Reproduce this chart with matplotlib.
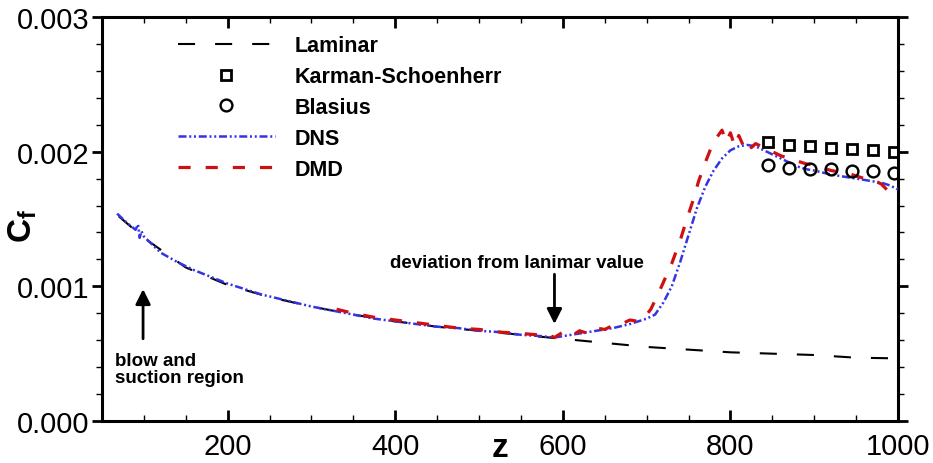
import matplotlib
matplotlib.use("Agg")
import matplotlib.pyplot as plt
from matplotlib.ticker import MultipleLocator, FormatStrFormatter

plt.rcParams['font.family'] = ['Liberation Sans', 'DejaVu Sans']
plt.rcParams['mathtext.fontset'] = 'custom'
plt.rcParams['mathtext.bf'] = 'Liberation Sans:bold'
plt.rcParams['mathtext.rm'] = 'Liberation Sans'
plt.rcParams['mathtext.it'] = 'Liberation Sans:italic'

# ---- data ----
laminar_z = [70, 100, 150, 200, 250, 300, 350, 400, 450, 500, 550, 600, 650,
             700, 750, 800, 850, 900, 950, 1000]
laminar_cf = [0.00152, 0.00136, 0.00114, 0.00101, 0.00092, 0.00085, 0.00079,
              0.00074, 0.00070, 0.00067, 0.00064, 0.00061, 0.00058, 0.00055,
              0.00053, 0.00051, 0.00050, 0.00049, 0.00047, 0.000465]

ks_z = [845, 870, 895, 920, 945, 970, 995]
ks_cf = [0.00207, 0.00205, 0.00204, 0.00203, 0.00202, 0.00201, 0.00200]

blasius_z = [845, 870, 895, 920, 945, 970, 995]
blasius_cf = [0.00190, 0.00188, 0.00187, 0.00187, 0.00186, 0.00186, 0.00184]

dns_z = [68, 80, 90, 93, 95, 97, 100, 110, 120, 140, 160, 180, 200, 220, 240,
         260, 280, 300, 325, 350, 375, 400, 425, 450, 475, 500, 525, 550, 575,
         590, 600, 620, 640, 660, 680, 700, 710, 720, 730, 740, 750, 760, 770,
         780, 790, 800, 810, 820, 830, 840, 850, 860, 870, 880, 890, 900, 920,
         940, 960, 980, 990, 1000]
dns_cf = [0.00154, 0.00147, 0.00142, 0.00146, 0.00136, 0.00141, 0.00137,
          0.00131, 0.00125, 0.00118, 0.00112, 0.00107, 0.00102, 0.00098,
          0.00094, 0.00091, 0.00088, 0.00085, 0.00082, 0.00079, 0.00076,
          0.00074, 0.00072, 0.00070, 0.00069, 0.00067, 0.00066, 0.00064,
          0.00063, 0.00062, 0.00063, 0.00065, 0.00067, 0.00069, 0.00072,
          0.00076, 0.00079, 0.00088, 0.00100, 0.00118, 0.00138, 0.00158,
          0.00174, 0.00186, 0.00195, 0.00201, 0.00204, 0.00205, 0.00204,
          0.00201, 0.00198, 0.00195, 0.00192, 0.00189, 0.00187, 0.00186,
          0.00183, 0.00181, 0.00179, 0.00177, 0.00175, 0.00172]

dmd_z = [330, 350, 375, 400, 425, 450, 475, 500, 525, 550, 570, 580, 590, 600,
         610, 620, 630, 640, 650, 660, 670, 680, 690, 700, 705, 712, 720, 730,
         740, 748, 755, 762, 770, 777, 783, 790, 795, 800, 805, 810, 815, 820,
         825, 830, 840, 850, 860, 870, 880, 890, 900, 910, 920, 930, 940, 950,
         960, 970, 980, 988]
dmd_cf = [0.00083, 0.00080, 0.00077, 0.00075, 0.00073, 0.00071, 0.00069,
          0.00068, 0.00066, 0.00065, 0.00064, 0.00065, 0.00062, 0.00066,
          0.00063, 0.00067, 0.00065, 0.00069, 0.00068, 0.00071, 0.00072,
          0.00075, 0.00074, 0.00079, 0.00083, 0.00092, 0.00103, 0.00117,
          0.00134, 0.00150, 0.00163, 0.00178, 0.00192, 0.00203, 0.00210,
          0.00216, 0.00207, 0.00214, 0.00204, 0.00212, 0.00205, 0.00209,
          0.00203, 0.00206, 0.00203, 0.00200, 0.00197, 0.00195, 0.00193,
          0.00191, 0.00190, 0.00188, 0.00186, 0.00185, 0.00184, 0.00182,
          0.00180, 0.00179, 0.00176, 0.00171]

x_ticks = [200, 400, 600, 800, 1000]
y_ticks = [0.000, 0.001, 0.002, 0.003]

# ---- figure ----
fig = plt.figure(figsize=(9.33, 4.64), dpi=100)
ax = fig.add_axes([102 / 933, 1 - 422 / 464, (898 - 102) / 933, (422 - 18) / 464])

blue = '#3434e6'
red = '#d01010'

ax.plot(laminar_z, laminar_cf, color='black', lw=1.5, dashes=(8.2, 9.6),
        label='Laminar', zorder=2)
ax.plot(ks_z, ks_cf, ls='none', marker='s', ms=6.5, mfc='none', mec='black',
        mew=2.0, label='Karman-Schoenherr', zorder=5)
ax.plot(blasius_z, blasius_cf, ls='none', marker='o', ms=8.5, mfc='none',
        mec='black', mew=1.7, label='Blasius', zorder=5)
ax.plot(dns_z, dns_cf, color=blue, lw=1.8, dashes=(3.2, 1.1, 0.8, 1.1, 0.8, 1.1),
        label='DNS', zorder=3)
ax.plot(dmd_z, dmd_cf, color=red, lw=2.3, dashes=(3.8, 4.7), label='DMD',
        zorder=4)

ax.set_xlim(50, 1000)
ax.set_ylim(0, 0.003)
ax.set_xticks(x_ticks)
ax.set_yticks(y_ticks)
ax.xaxis.set_minor_locator(MultipleLocator(50))
ax.yaxis.set_minor_locator(MultipleLocator(0.0002))
ax.yaxis.set_major_formatter(FormatStrFormatter('%.3f'))

for s in ax.spines.values():
    s.set_linewidth(2.2)

ax.tick_params(axis='x', which='major', direction='in', length=8, width=2,
               top=True, labelsize=21, pad=8)
ax.tick_params(axis='x', which='minor', direction='in', length=4, width=1,
               top=True)
ax.tick_params(axis='y', which='major', direction='out', length=7, width=2,
               right=True, labelsize=21, pad=2)
ax.tick_params(axis='y', which='minor', direction='out', length=4, width=1,
               right=True)

fig.text(500 / 933, 1 - 449 / 464, 'z', fontsize=24, fontweight='bold',
         ha='center', va='center')
fig.text(23 / 933, 1 - 226 / 464, r'$\mathbf{C_f}$', fontsize=24,
         rotation=90, ha='center', va='center')

leg = ax.legend(loc='upper left', bbox_to_anchor=(0.0955, 0.955),
                frameon=False, borderpad=0, borderaxespad=0,
                handlelength=4.5, handletextpad=0.9, labelspacing=0.46,
                numpoints=1, prop={'size': 15.5, 'weight': 'bold'})

ax.annotate('', xy=(590, 0.00070), xytext=(590, 0.00111),
            arrowprops=dict(arrowstyle='-|>,head_length=0.9,head_width=0.45',
                            color='black', lw=2))
ax.text(545, 0.00118, 'deviation from lanimar value', fontsize=13.5,
        fontweight='bold', ha='center', va='center')

ax.annotate('', xy=(99, 0.00100), xytext=(99, 0.00059),
            arrowprops=dict(arrowstyle='-|>,head_length=0.9,head_width=0.45',
                            color='black', lw=2))
ax.text(65, 0.00045, 'blow and', fontsize=13.5, fontweight='bold',
        ha='left', va='center')
ax.text(65, 0.000325, 'suction region', fontsize=13.5, fontweight='bold',
        ha='left', va='center')

fig.savefig('out.png', dpi=100)
